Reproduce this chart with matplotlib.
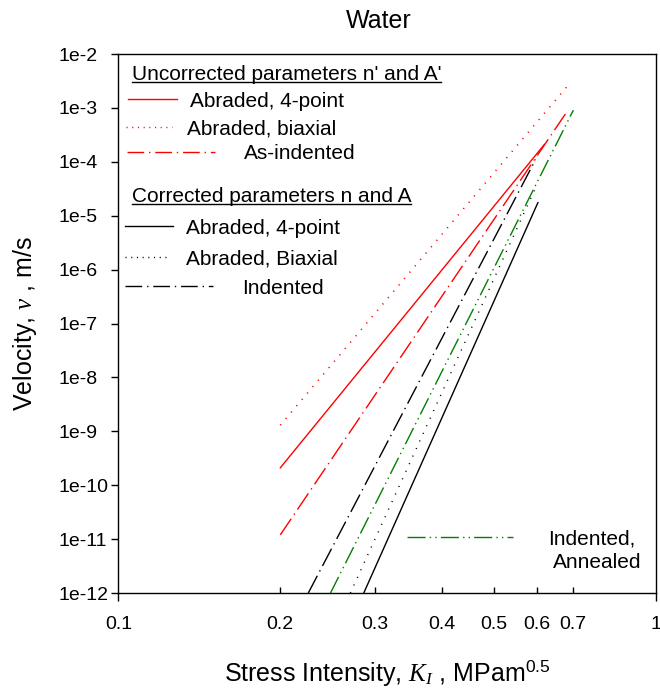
import numpy as np
import matplotlib
matplotlib.use('Agg')
import matplotlib.pyplot as plt
from matplotlib.ticker import FixedLocator, FixedFormatter, NullLocator

plt.rcParams['font.family'] = ['Liberation Sans', 'DejaVu Sans']
plt.rcParams['mathtext.fontset'] = 'custom'
plt.rcParams['mathtext.it'] = 'Liberation Serif:italic'
plt.rcParams['mathtext.rm'] = 'Liberation Sans'
plt.rcParams['lines.scale_dashes'] = False

# end points of each v-K line (K in MPa m^0.5, v in m/s)
unc_4pt_K = [0.2, 0.62]
unc_4pt_v = [2.1e-10, 2.1e-4]
unc_biax_K = [0.2, 0.692]
unc_biax_v = [1.3e-9, 2.9e-3]
unc_ind_K = [0.2, 0.68]
unc_ind_v = [1.2e-11, 8.0e-4]

cor_4pt_K = [0.286, 0.603]
cor_4pt_v = [1e-12, 1.75e-5]
cor_biax_K = [0.270, 0.600]
cor_biax_v = [1e-12, 3.7e-5]
cor_ind_K = [0.2255, 0.597]
cor_ind_v = [1e-12, 1.1e-4]
ann_K = [0.248, 0.702]
ann_v = [1e-12, 9.1e-4]

x_major = [0.1, 1]
x_major_labels = ['0.1', '1']
x_minor = [0.2, 0.3, 0.4, 0.5, 0.6, 0.7]
x_minor_labels = ['0.2', '0.3', '0.4', '0.5', '0.6', '0.7']
y_ticks = [1e-12, 1e-11, 1e-10, 1e-9, 1e-8, 1e-7, 1e-6, 1e-5, 1e-4, 1e-3, 1e-2]
y_labels = ['1e-12', '1e-11', '1e-10', '1e-9', '1e-8', '1e-7', '1e-6',
            '1e-5', '1e-4', '1e-3', '1e-2']

RED = '#ff0000'
GREEN = '#008000'
SOLID = '-'
DOT = (0, (0.8, 5.2))
DOT_LEG = (0, (0.8, 3.3))
DASHDOT = (0, (14, 3.5, 1, 3.5))
DASHDOT_LEG = (0, (12, 3.5, 1, 3.5))
DASHDOTDOT = (0, (13, 3, 1, 3, 1, 3))
LW = 1.0
LEG_FS = 15


def underline(ax, txt, drop_px=2.0):
    r = ax.figure.canvas.get_renderer()
    bb = txt.get_window_extent(renderer=r)
    _, yb = txt.get_transform().transform(txt.get_position())
    inv = ax.transAxes.inverted()
    (xa, ya), (xb, _) = inv.transform([(bb.x0, yb - drop_px), (bb.x1, yb - drop_px)])
    ax.plot([xa, xb], [ya, ya], color='k', lw=1.0, transform=ax.transAxes, clip_on=False)


def main():
    fig = plt.figure(figsize=(6.6, 6.91), dpi=100)
    ax = fig.add_axes([0.1795, 0.1418, 0.8144, 0.7800])

    ax.plot(unc_4pt_K, unc_4pt_v, color=RED, ls=SOLID, lw=LW)
    ax.plot(unc_biax_K, unc_biax_v, color=RED, ls=DOT, lw=LW * 1.2)
    ax.plot(unc_ind_K, unc_ind_v, color=RED, ls=DASHDOT, lw=LW)
    ax.plot(cor_4pt_K, cor_4pt_v, color='k', ls=SOLID, lw=LW)
    ax.plot(cor_biax_K, cor_biax_v, color='k', ls=DOT, lw=LW)
    ax.plot(cor_ind_K, cor_ind_v, color='k', ls=DASHDOT, lw=LW)
    ax.plot(ann_K, ann_v, color=GREEN, ls=DASHDOTDOT, lw=LW)

    ax.set_xscale('log')
    ax.set_yscale('log')
    ax.set_xlim(0.1, 1)
    ax.set_ylim(1e-12, 1e-2)

    ax.xaxis.set_major_locator(FixedLocator(x_major))
    ax.xaxis.set_major_formatter(FixedFormatter(x_major_labels))
    ax.xaxis.set_minor_locator(FixedLocator(x_minor))
    ax.xaxis.set_minor_formatter(FixedFormatter(x_minor_labels))
    ax.yaxis.set_major_locator(FixedLocator(y_ticks))
    ax.yaxis.set_major_formatter(FixedFormatter(y_labels))
    ax.yaxis.set_minor_locator(NullLocator())

    ax.tick_params(axis='x', which='major', direction='out', length=5.8, width=1.0,
                   pad=10.8, labelsize=14)
    ax.tick_params(axis='x', which='minor', direction='in', length=4.3, width=1.0,
                   pad=16.6, labelsize=14)
    ax.tick_params(axis='y', which='major', direction='out', length=5.0, width=1.0,
                   pad=38.3, labelsize=14)
    plt.setp(ax.get_yticklabels(), ha='left')
    for s in ax.spines.values():
        s.set_linewidth(1.0)

    # legend block drawn by hand
    h1 = ax.text(0.0246, 0.9518, "Uncorrected parameters n' and A'", fontsize=LEG_FS,
                 transform=ax.transAxes, va='baseline')
    h2 = ax.text(0.0246, 0.7249, "Corrected parameters n and A", fontsize=LEG_FS,
                 transform=ax.transAxes, va='baseline')

    entries = [
        (0.9165, 0.0182, 0.1094, RED, SOLID, 0.9026, 0.1330, 'Abraded, 4-point'),
        (0.8651, 0.0140, 0.0990, RED, DOT_LEG, 0.8512, 0.1269, 'Abraded, biaxial'),
        (0.8187, 0.0153, 0.1795, RED, DASHDOT_LEG, 0.8048, 0.2335, 'As-indented'),
        (0.6809, 0.0121, 0.1020, 'k', SOLID, 0.6670, 0.1256, 'Abraded, 4-point'),
        (0.6239, 0.0121, 0.0958, 'k', DOT_LEG, 0.6100, 0.1256, 'Abraded, Biaxial'),
        (0.5696, 0.0121, 0.1764, 'k', DASHDOT_LEG, 0.5557, 0.2292, 'Indented'),
        (0.1045, 0.5362, 0.7345, GREEN, DASHDOTDOT, 0.0905, 0.7985, 'Indented,'),
    ]
    for ly, x0, x1, c, ls, ty, tx, lbl in entries:
        ax.plot([x0, x1], [ly, ly], color=c, ls=ls, lw=LW, transform=ax.transAxes)
        ax.text(tx, ty, lbl, fontsize=LEG_FS, transform=ax.transAxes, va='baseline')
    ax.text(0.8089, 0.0473, 'Annealed', fontsize=LEG_FS, transform=ax.transAxes,
            va='baseline')

    fig.canvas.draw()
    underline(ax, h1)
    underline(ax, h2)

    fig.text(378.3 / 660, 1 - 28.3 / 691, 'Water', fontsize=18, ha='center', va='baseline')
    fig.text(387 / 660, 1 - 681 / 691, r'Stress Intensity, $K_I$ , MPam$^{0.5}$',
             fontsize=18, ha='center', va='baseline')
    fig.text(25 / 660, 1 - 323.5 / 691, r'Velocity, $v$ , m/s', fontsize=18,
             rotation=90, ha='center', va='center')

    fig.savefig('out.png', dpi=100)


if __name__ == '__main__':
    main()
